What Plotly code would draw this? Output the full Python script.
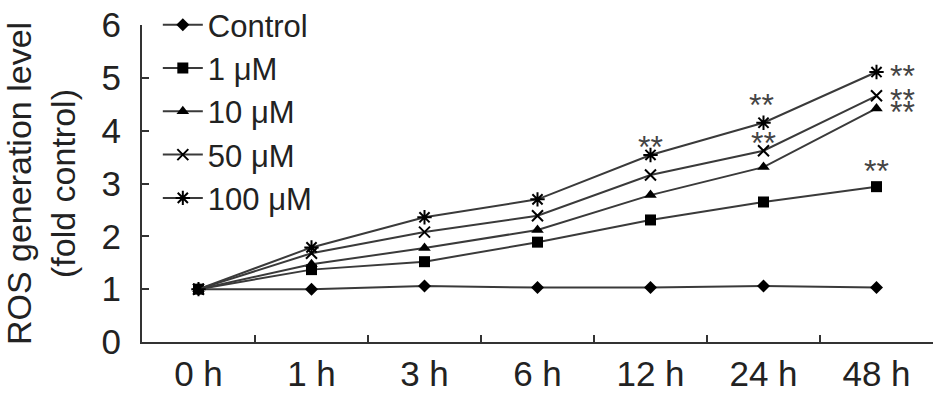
import plotly.graph_objects as go

categories = ["0 h", "1 h", "3 h", "6 h", "12 h", "24 h", "48 h"]
series_names = ["Control", "1 \u03bcM", "10 \u03bcM", "50 \u03bcM", "100 \u03bcM"]
control = [1.0, 1.0, 1.06, 1.03, 1.03, 1.06, 1.03]
um1 = [1.0, 1.37, 1.52, 1.89, 2.31, 2.65, 2.94]
um10 = [1.0, 1.47, 1.78, 2.12, 2.78, 3.31, 4.42]
um50 = [1.0, 1.68, 2.08, 2.39, 3.16, 3.62, 4.66]
um100 = [1.0, 1.79, 2.36, 2.70, 3.54, 4.15, 5.11]
y_ticks = [0, 1, 2, 3, 4, 5, 6]

# significance marks: (category index, series index)
sig_marks = [(4, 4), (5, 4), (5, 3), (6, 4), (6, 3), (6, 2), (6, 1)]

all_series = [control, um1, um10, um50, um100]
symbols = ["diamond", "square", "triangle-up", "x-thin", "asterisk"]
sizes = [10, 11, 11, 11, 12]

FONT = "Liberation Sans, Arial, sans-serif"
LINE_COLOR = "#3a3a3a"

fig = go.Figure()
for name, vals, sym, sz in zip(series_names, all_series, symbols, sizes):
    open_sym = sym in ("x-thin", "asterisk")
    fig.add_trace(go.Scatter(
        x=categories, y=vals, name=name, mode="lines+markers",
        line=dict(color=LINE_COLOR, width=2),
        marker=dict(symbol=sym, size=sz, color="black",
                    line=dict(color="black", width=2 if open_sym else 0)),
    ))

# annotation placement (style/offset only)
for ci, si in sig_marks:
    val = all_series[si][ci]
    if ci == 6 and si in (2, 3, 4):
        xshift, yshift = 26, -4
    elif ci == 6 and si == 1:
        xshift, yshift = 0, 16
    elif ci == 5 and si == 4:
        xshift, yshift = -2, 18
    else:
        xshift, yshift = 0, 8
    fig.add_annotation(x=categories[ci], y=val, text="**", showarrow=False,
                       xref="x", yref="y", xshift=xshift, yshift=yshift,
                       font=dict(family=FONT, size=32, color="#444"))

fig.update_layout(
    width=945, height=397,
    margin=dict(l=142, r=12, t=25, b=55, autoexpand=False),
    paper_bgcolor="white", plot_bgcolor="white",
    font=dict(family=FONT, size=32, color="#222"),
    showlegend=True,
    legend=dict(x=0.02, y=1.085, xanchor="left", yanchor="top",
                bgcolor="rgba(0,0,0,0)", font=dict(size=31, color="#222"),
                itemwidth=40, tracegroupgap=0, maxheight=400),
)
fig.update_xaxes(
    type="category", range=[-0.5, 6.5],
    showline=True, linecolor="#333", linewidth=2,
    ticks="inside", ticklen=7, tickwidth=1.5, tickcolor="#333",
    tickson="boundaries", showgrid=False, zeroline=False,
    tickfont=dict(size=35, color="#222"),
)
fig.update_yaxes(
    range=[0, 6], tickvals=y_ticks,
    showline=True, linecolor="#333", linewidth=2,
    ticks="inside", ticklen=7, tickwidth=1.5, tickcolor="#333",
    showgrid=False, zeroline=False,
    tickfont=dict(size=35, color="#222"), ticklabelstandoff=12,
    title=dict(text="ROS generation level<br>(fold control)",
               font=dict(size=34, color="#222"), standoff=16),
)

fig.write_html("out.html",
               config={"displayModeBar": False},
               post_script="document.body.style.margin='0';document.body.style.overflow='hidden';")
